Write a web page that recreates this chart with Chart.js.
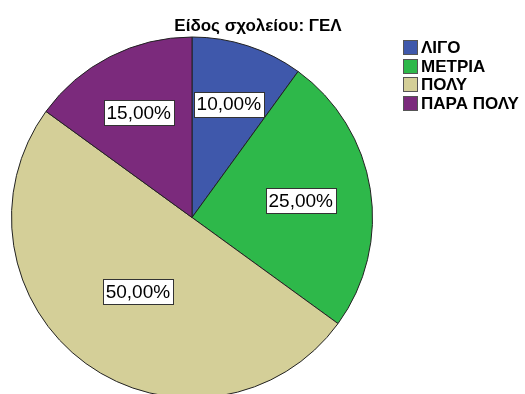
<!DOCTYPE html>
<html>
<head>
<meta charset="utf-8">
<script src="https://cdn.jsdelivr.net/npm/chart.js@4"></script>
<style>
  html, body { margin: 0; padding: 0; background: #fff; overflow: hidden; }
  #wrap { position: relative; width: 525px; height: 400px; }
</style>
</head>
<body>
<div id="wrap"><canvas id="c" width="525" height="400"></canvas></div>
<script>
// Answer categories and their shares (%) for school type ΓΕΛ
const categories = ['ΛΙΓΟ', 'ΜΕΤΡΙΑ', 'ΠΟΛΥ', 'ΠΑΡΑ ΠΟΛΥ'];
const shares = [10, 25, 50, 15];
const sliceColors = ['#3F58AB', '#2EB84A', '#D4CF98', '#7B2A7C'];
const subtitleText = 'Είδος σχολείου: ΓΕΛ';

// how far out (fraction of radius) each value box sits along its slice's middle
const labelRadius = [0.66, 0.61, 0.51, 0.65];

const fmt = v => v.toFixed(2).replace('.', ',') + '%';
const FONT = '"Liberation Sans", Arial, sans-serif';

const overlay = {
  id: 'overlay',
  afterDraw(chart) {
    const ctx = chart.ctx;
    const meta = chart.getDatasetMeta(0);
    ctx.save();
    // value boxes
    ctx.font = '19px ' + FONT;
    ctx.textAlign = 'center';
    ctx.textBaseline = 'middle';
    meta.data.forEach((arc, i) => {
      const p = arc.getProps(['x', 'y', 'startAngle', 'endAngle', 'outerRadius'], true);
      const mid = (p.startAngle + p.endAngle) / 2;
      const r = p.outerRadius * labelRadius[i];
      const cx = p.x + Math.cos(mid) * r;
      const cy = p.y + Math.sin(mid) * r;
      const txt = fmt(chart.data.datasets[0].data[i]);
      const w = Math.round(ctx.measureText(txt).width + 6);
      const h = 25;
      const bx = Math.round(cx - w / 2) + 0.5;
      const by = Math.round(cy - h / 2) + 0.5;
      ctx.fillStyle = '#fff';
      ctx.fillRect(bx, by, w, h);
      ctx.strokeStyle = '#333';
      ctx.lineWidth = 1;
      ctx.strokeRect(bx, by, w, h);
      ctx.fillStyle = '#000';
      ctx.fillText(txt, cx, cy + 1);
    });

    // subtitle
    ctx.font = 'bold 17px ' + FONT;
    ctx.textAlign = 'center';
    ctx.textBaseline = 'alphabetic';
    ctx.fillStyle = '#000';
    ctx.fillText(subtitleText, 258, 31);

    // legend
    ctx.font = 'bold 17px ' + FONT;
    ctx.textAlign = 'left';
    ctx.textBaseline = 'middle';
    chart.data.labels.forEach((lab, i) => {
      const y = Math.round(40 + i * 18.7);
      ctx.fillStyle = sliceColors[i];
      ctx.fillRect(403, y, 15, 15);
      ctx.strokeStyle = '#555';
      ctx.strokeRect(403.5, y + 0.5, 14, 14);
      ctx.fillStyle = '#000';
      ctx.fillText(lab, 421, y + 8);
    });
    ctx.restore();
  }
};

new Chart(document.getElementById('c'), {
  type: 'pie',
  data: {
    labels: categories,
    datasets: [{
      data: shares,
      backgroundColor: sliceColors,
      borderColor: '#222',
      borderWidth: 1
    }]
  },
  options: {
    responsive: false,
    animation: false,
    layout: { padding: { left: 11, right: 152, top: 36, bottom: 1 } },
    plugins: {
      legend: { display: false },
      tooltip: { enabled: false }
    }
  },
  plugins: [overlay]
});
</script>
</body>
</html>
